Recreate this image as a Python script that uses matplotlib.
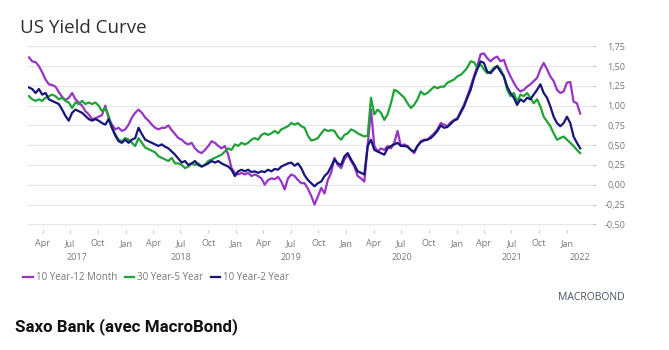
import matplotlib
matplotlib.use("Agg")
import matplotlib.pyplot as plt
import matplotlib.dates as mdates
import matplotlib.transforms as mtransforms
from matplotlib.ticker import FixedLocator, FuncFormatter
import pandas as pd

# spreads in percentage points, sampled every 11 days from mid Feb 2017
start_date = "2017-02-14"

ten_year_12_month = [
    1.61, 1.56, 1.55, 1.50, 1.42, 1.33, 1.27, 1.26, 1.24, 1.17, 1.11, 1.07, 1.10, 1.16,
    1.08, 1.04, 1.00, 0.93, 0.89, 0.83, 0.84, 0.86, 0.88, 1.00, 0.84, 0.76, 0.70, 0.72,
    0.68, 0.70, 0.76, 0.85, 0.91, 0.95, 0.91, 0.85, 0.81, 0.76, 0.72, 0.70, 0.72,
    0.72, 0.75, 0.69, 0.64, 0.59, 0.57, 0.53, 0.51, 0.53, 0.46, 0.42, 0.40, 0.44, 0.49,
    0.55, 0.53, 0.49, 0.46, 0.49, 0.38, 0.21, 0.15, 0.13, 0.15, 0.13, 0.15, 0.11, 0.13,
    0.11, 0.08, 0.00, 0.06, 0.08, 0.07, 0.10, 0.04, -0.06, 0.08, 0.13, 0.11, 0.06, 0.02,
    0.02, -0.05, -0.14, -0.25, -0.15, -0.04, -0.11, 0.06, 0.15, 0.34, 0.25, 0.21, 0.32,
    0.38, 0.30, 0.23, 0.11, 0.08, 0.04, 0.50, 0.95, 0.49, 0.42, 0.46, 0.44, 0.49, 0.46,
    0.53, 0.68, 0.49, 0.51, 0.49, 0.44, 0.40, 0.49, 0.55, 0.57, 0.57, 0.61, 0.65, 0.70,
    0.78,
    0.76, 0.74, 0.79, 0.82, 0.84, 0.93, 1.01, 1.12, 1.24, 1.37, 1.50, 1.65, 1.66, 1.60,
    1.56, 1.60, 1.62, 1.56, 1.58, 1.46, 1.37, 1.29, 1.22, 1.18, 1.20, 1.24, 1.27, 1.31,
    1.35, 1.46, 1.54, 1.46, 1.37, 1.31, 1.20, 1.16, 1.18, 1.29, 1.30, 1.05, 1.03, 0.90,
]

thirty_year_5_year = [
    1.12, 1.08, 1.06, 1.08, 1.06, 1.10, 1.12, 1.14, 1.12, 1.08, 1.10, 1.06, 1.04, 0.97,
    1.04, 1.02, 1.06, 1.02, 1.04, 1.02, 1.04, 1.00, 0.93, 0.97, 0.87, 0.72, 0.64, 0.57,
    0.55, 0.59, 0.57, 0.53, 0.49, 0.59, 0.53, 0.47, 0.45, 0.43, 0.41, 0.36, 0.34,
    0.32, 0.30, 0.34, 0.27, 0.27, 0.25, 0.21, 0.23, 0.27, 0.25, 0.27, 0.23, 0.25, 0.30,
    0.32, 0.34, 0.36, 0.38, 0.42, 0.46, 0.44, 0.51, 0.49, 0.53, 0.51, 0.53, 0.57, 0.59,
    0.57, 0.63, 0.65, 0.63, 0.65, 0.68, 0.65, 0.70, 0.72, 0.74, 0.78, 0.76, 0.78, 0.74,
    0.72, 0.62, 0.56, 0.57, 0.59, 0.65, 0.70, 0.68, 0.69, 0.68, 0.61, 0.57, 0.63, 0.65,
    0.70, 0.68, 0.65, 0.63, 0.61, 0.62, 1.10, 0.89, 0.95, 0.91, 0.82, 0.89, 1.03, 1.20,
    1.18, 1.14, 1.10, 1.03, 0.97, 1.01, 1.08, 1.18, 1.14, 1.16, 1.20, 1.24, 1.22, 1.24,
    1.24, 1.29, 1.31, 1.33, 1.37, 1.39, 1.43, 1.48, 1.56, 1.55, 1.48, 1.52, 1.46, 1.41,
    1.43, 1.48, 1.50, 1.46, 1.37, 1.20, 1.12, 1.16, 1.05, 1.14, 1.12, 1.16, 1.10, 1.03,
    1.08, 0.99, 0.86, 0.80, 0.74, 0.65, 0.57, 0.59, 0.61, 0.57, 0.53, 0.49, 0.44, 0.40,
]

ten_year_2_year = [
    1.23, 1.21, 1.16, 1.21, 1.14, 1.16, 1.08, 1.06, 1.04, 1.02, 0.95, 0.87, 0.81, 0.91,
    0.95, 0.93, 0.91, 0.87, 0.83, 0.81, 0.83, 0.81, 0.78, 0.76, 0.83, 0.72, 0.62, 0.55,
    0.53, 0.57, 0.53, 0.57, 0.59, 0.72, 0.64, 0.57, 0.55, 0.53, 0.51, 0.49, 0.51,
    0.48, 0.46, 0.42, 0.38, 0.33, 0.28, 0.30, 0.25, 0.27, 0.30, 0.25, 0.23, 0.25, 0.27,
    0.30, 0.28, 0.30, 0.27, 0.25, 0.23, 0.19, 0.11, 0.17, 0.19, 0.17, 0.19, 0.16, 0.17,
    0.15, 0.17, 0.16, 0.19, 0.17, 0.20, 0.19, 0.23, 0.25, 0.27, 0.28, 0.24, 0.27, 0.21,
    0.12, 0.06, 0.02, -0.02, 0.02, 0.04, 0.11, 0.15, 0.23, 0.32, 0.27, 0.25, 0.36, 0.40,
    0.32, 0.25, 0.17, 0.15, 0.13, 0.49, 0.57, 0.44, 0.42, 0.40, 0.38, 0.46, 0.49, 0.51,
    0.53, 0.49, 0.49, 0.48, 0.44, 0.42, 0.49, 0.54, 0.56, 0.57, 0.59, 0.63, 0.68, 0.75,
    0.72, 0.73, 0.77, 0.81, 0.83, 0.91, 0.99, 1.10, 1.20, 1.35, 1.46, 1.56, 1.54, 1.43,
    1.41, 1.46, 1.50, 1.43, 1.37, 1.24, 1.16, 1.10, 1.01, 1.08, 1.05, 1.10, 1.08, 1.14,
    1.20, 1.27, 1.16, 1.10, 0.99, 0.86, 0.78, 0.74, 0.78, 0.86, 0.78, 0.61, 0.53, 0.46,
]

series_names = ["10 Year-12 Month", "30 Year-5 Year", "10 Year-2 Year"]
series_colors = ["#9933c4", "#1fa336", "#16167a"]
y_ticks = [-0.5, -0.25, 0.0, 0.25, 0.5, 0.75, 1.0, 1.25, 1.5, 1.75]
year_labels = ["2017", "2018", "2019", "2020", "2021", "2022"]

dates = pd.date_range(start_date, periods=len(ten_year_12_month), freq="11D")
x_start = pd.Timestamp("2017-02-11")
x_end = pd.Timestamp("2022-03-25")

plt.rcParams["font.family"] = ["Open Sans", "DejaVu Sans"]

fig = plt.figure(figsize=(6.69, 3.5), dpi=100)
ax = fig.add_axes([0.0419, 0.3429, 0.843, 0.5428])

for values, name, color in zip([ten_year_12_month, thirty_year_5_year, ten_year_2_year],
                               series_names, series_colors):
    ax.plot(dates, values, color=color, lw=1.6, label=name, solid_joinstyle="round")

ax.set_xlim(x_start, x_end)
ax.set_ylim(-0.572, 1.83)

# value axis on the right, comma decimals
ax.yaxis.tick_right()
ax.yaxis.set_major_locator(FixedLocator(y_ticks))
ax.yaxis.set_major_formatter(FuncFormatter(lambda v, _: f"{v:.2f}".replace(".", ",")))
ax.tick_params(axis="y", length=3, color="#c8c8c8", labelsize=6.5, labelcolor="#777777", pad=21)
for lab in ax.get_yticklabels():
    lab.set_horizontalalignment("right")
ax.grid(axis="y", color="#e6e6e6", lw=0.8)
ax.set_axisbelow(True)

# quarter ticks along the bottom
ax.xaxis.set_major_locator(mdates.MonthLocator(bymonth=[1, 4, 7, 10]))
ax.xaxis.set_major_formatter(mdates.DateFormatter("%b"))
ax.tick_params(axis="x", length=2.5, color="#c8c8c8", labelsize=6.5, labelcolor="#777777", pad=4)

for s in ax.spines.values():
    s.set_visible(False)

# year labels centred under the visible part of each year
trans = mtransforms.blended_transform_factory(ax.transData, ax.transAxes)
for lbl in year_labels:
    y0 = max(pd.Timestamp(f"{lbl}-01-01"), x_start)
    y1 = min(pd.Timestamp(f"{int(lbl) + 1}-01-01"), x_end)
    mid = y0 + (y1 - y0) / 2
    ax.text(mdates.date2num(mid), -0.147, lbl, transform=trans, ha="center", va="center",
            fontsize=6.5, color="#777777")

fig.text(0.03, 0.92, "US Yield Curve", fontsize=13.5, fontweight="medium",
         color="#2e2e2e", va="center")

fig.legend(loc="center left", bbox_to_anchor=(0.022, 0.206), ncol=3, frameon=False,
           handlelength=1.0, handletextpad=0.25, columnspacing=0.8, fontsize=7,
           labelcolor="#777777")

fig.text(0.933, 0.151, "MACROBOND", fontsize=7.5, color="#4a5060", ha="right", va="center")
fig.text(0.022, 0.066, "Saxo Bank (avec MacroBond)", fontsize=12.2, fontweight="bold",
         family="Roboto", color="#111111", va="center")

fig.savefig("out.png", dpi=100)
